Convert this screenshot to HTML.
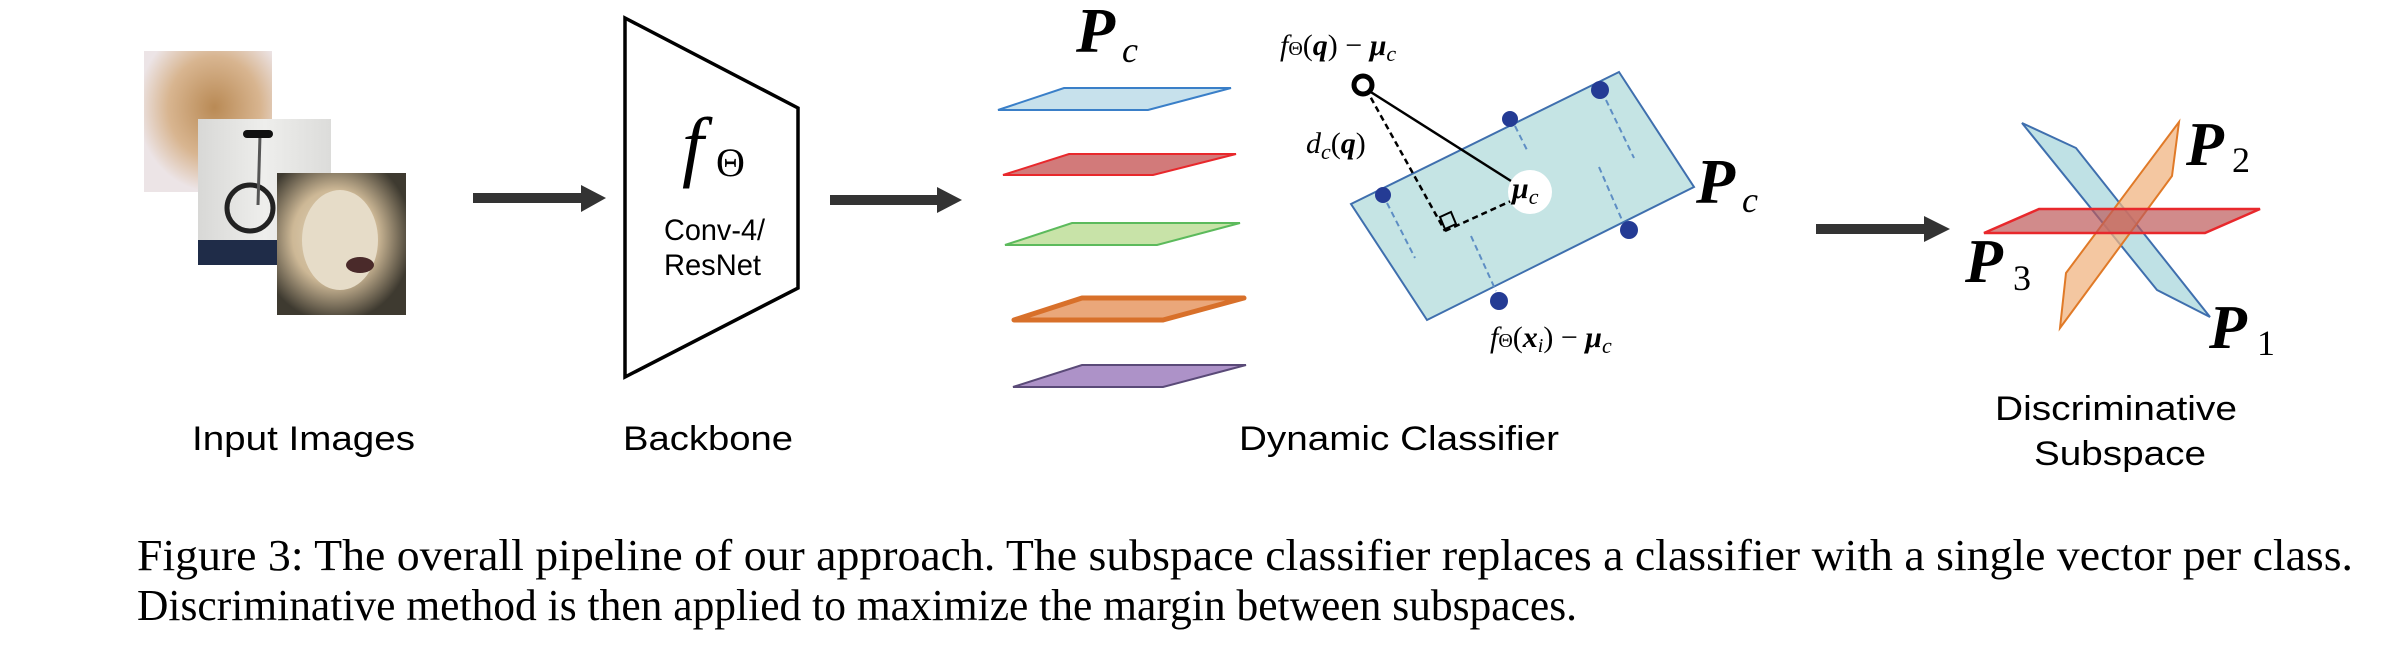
<!DOCTYPE html>
<html><head><meta charset="utf-8"><style>html,body{margin:0;padding:0;background:#fff}svg{display:block}</style></head>
<body>
<svg width="2392" height="648" viewBox="0 0 2392 648" xmlns="http://www.w3.org/2000/svg">
<defs>
<radialGradient id="g1" cx="0.55" cy="0.4" r="0.6"><stop offset="0" stop-color="#b98a55"/><stop offset="0.6" stop-color="#d8b590"/><stop offset="1" stop-color="#ece4e6"/></radialGradient>
<linearGradient id="g2" x1="0" y1="0" x2="1" y2="0"><stop offset="0" stop-color="#d8d8d6"/><stop offset="0.5" stop-color="#eeeeec"/><stop offset="1" stop-color="#dcdcda"/></linearGradient>
<radialGradient id="g3" cx="0.45" cy="0.45" r="0.6"><stop offset="0" stop-color="#e8dcc4"/><stop offset="0.55" stop-color="#cdb896"/><stop offset="1" stop-color="#3e3a30"/></radialGradient>
</defs>
<!-- images -->
<rect x="144" y="51" width="128" height="141" fill="url(#g1)"/>
<rect x="198" y="119" width="133" height="146" fill="url(#g2)"/>
<rect x="198" y="240" width="133" height="25" fill="#1f2c48"/>
<circle cx="250" cy="208" r="23" fill="none" stroke="#222" stroke-width="5"/>
<line x1="260" y1="135" x2="258" y2="205" stroke="#555" stroke-width="3"/>
<rect x="243" y="130" width="30" height="8" rx="4" fill="#111"/>
<rect x="277" y="173" width="129" height="142" fill="url(#g3)"/>
<ellipse cx="340" cy="240" rx="38" ry="50" fill="#e6dcc8"/>
<ellipse cx="360" cy="265" rx="14" ry="8" fill="#4a2a2a"/>
<!-- arrow 1 -->
<rect x="473" y="193" width="110" height="10" fill="#333"/>
<polygon points="581,185 606,198 581,212" fill="#333"/>
<!-- backbone -->
<polygon points="625,18 798,108 798,288 625,377" fill="#fff" stroke="#000" stroke-width="3.5"/>
<text x="682" y="172" font-family="Liberation Serif" font-style="italic" font-size="78">f</text>
<text x="716" y="176" font-family="Liberation Serif" font-size="40">Θ</text>
<text x="664" y="240" font-family="Liberation Sans" font-size="30" textLength="101" lengthAdjust="spacingAndGlyphs">Conv-4/</text>
<text x="664" y="275" font-family="Liberation Sans" font-size="30" textLength="97" lengthAdjust="spacingAndGlyphs">ResNet</text>
<!-- arrow 2 -->
<rect x="830" y="195" width="110" height="10" fill="#333"/>
<polygon points="937,187 962,200 937,213" fill="#333"/>
<!-- Pc label -->
<text x="1076" y="52" font-family="Liberation Serif" font-style="italic" font-weight="bold" font-size="64">P</text>
<text x="1122" y="62" font-family="Liberation Serif" font-style="italic" font-size="36">c</text>
<!-- planes -->
<polygon points="1064,88 1231,88 1148,110 998,110" fill="#c7e1ec" stroke="#3a7fc8" stroke-width="2"/>
<polygon points="1069,154 1236,154 1153,175 1003,175" fill="#d27a7a" stroke="#e8282c" stroke-width="2"/>
<polygon points="1072,223 1240,223 1157,245 1005,245" fill="#c8e3a8" stroke="#5cba5c" stroke-width="2"/>
<polygon points="1082,298 1244,298 1163,320 1014,320" fill="#eaa77a" stroke="#d8702a" stroke-width="5" stroke-linejoin="round"/>
<polygon points="1082,365 1246,365 1163,387 1013,387" fill="#ad92c8" stroke="#5a4a78" stroke-width="2"/>
<!-- classifier -->
<text x="1280" y="55" font-family="Liberation Serif" font-size="30"><tspan font-style="italic">f</tspan><tspan font-size="20">Θ</tspan>(<tspan font-style="italic" font-weight="bold">q</tspan>) − <tspan font-style="italic" font-weight="bold">μ</tspan><tspan font-style="italic" font-size="22" dy="6">c</tspan></text>
<polygon points="1619,72 1694,187 1427,320 1351,204" fill="#c5e4e4" stroke="#3f6fae" stroke-width="2"/>
<g stroke="#5e8ec4" stroke-width="2" stroke-dasharray="6,4">
<line x1="1606" y1="100" x2="1634" y2="158"/><line x1="1515" y1="126" x2="1528" y2="152"/>
<line x1="1387" y1="203" x2="1415" y2="258"/><line x1="1599" y1="167" x2="1622" y2="220"/>
<line x1="1471" y1="236" x2="1496" y2="291"/></g>
<g fill="#243b94"><circle cx="1600" cy="90" r="9"/><circle cx="1510" cy="119" r="8"/><circle cx="1383" cy="195" r="8"/><circle cx="1629" cy="230" r="9"/><circle cx="1499" cy="301" r="9"/></g>
<line x1="1366" y1="89" x2="1511" y2="181" stroke="#000" stroke-width="2.5"/>
<line x1="1366" y1="89" x2="1445" y2="231" stroke="#000" stroke-width="2.5" stroke-dasharray="6,4"/>
<line x1="1445" y1="231" x2="1511" y2="201" stroke="#000" stroke-width="2.5" stroke-dasharray="6,4"/>
<polygon points="1440,217 1451,212 1456,224 1445,229" fill="none" stroke="#000" stroke-width="2"/>
<circle cx="1363" cy="85" r="9" fill="#fff" stroke="#000" stroke-width="5"/>
<circle cx="1530" cy="192" r="22" fill="#fff"/>
<text x="1512" y="198" font-family="Liberation Serif" font-size="30"><tspan font-style="italic" font-weight="bold">μ</tspan><tspan font-style="italic" font-size="22" dy="6">c</tspan></text>
<text x="1306" y="153" font-family="Liberation Serif" font-size="30"><tspan font-style="italic">d</tspan><tspan font-style="italic" font-size="22" dy="6">c</tspan><tspan dy="-6">(</tspan><tspan font-style="italic" font-weight="bold">q</tspan>)</text>
<text x="1696" y="203" font-family="Liberation Serif" font-style="italic" font-weight="bold" font-size="64">P</text>
<text x="1742" y="212" font-family="Liberation Serif" font-style="italic" font-size="36">c</text>
<text x="1490" y="347" font-family="Liberation Serif" font-size="30"><tspan font-style="italic">f</tspan><tspan font-size="20">Θ</tspan>(<tspan font-style="italic" font-weight="bold">x</tspan><tspan font-style="italic" font-size="20" dy="5">i</tspan><tspan dy="-5">) − </tspan><tspan font-style="italic" font-weight="bold">μ</tspan><tspan font-style="italic" font-size="22" dy="6">c</tspan></text>
<!-- arrow 3 -->
<rect x="1816" y="224" width="110" height="10" fill="#333"/>
<polygon points="1924,216 1950,229 1924,242" fill="#333"/>
<!-- subspaces -->
<polygon points="2022,123 2076,148 2210,317 2157,290" fill="rgba(180,220,225,0.85)" stroke="#3f6fae" stroke-width="2"/>
<polygon points="2179,122 2172,176 2060,328 2066,273" fill="rgba(240,180,130,0.75)" stroke="#e07a28" stroke-width="2"/>
<polygon points="2039,209 2260,209 2205,233 1984,233" fill="rgba(190,90,90,0.7)" stroke="#e8282c" stroke-width="2.5"/>
<text x="2186" y="165" font-family="Liberation Serif" font-style="italic" font-weight="bold" font-size="62">P</text>
<text x="2232" y="172" font-family="Liberation Serif" font-size="36">2</text>
<text x="1965" y="282" font-family="Liberation Serif" font-style="italic" font-weight="bold" font-size="62">P</text>
<text x="2013" y="290" font-family="Liberation Serif" font-size="36">3</text>
<text x="2209" y="348" font-family="Liberation Serif" font-style="italic" font-weight="bold" font-size="62">P</text>
<text x="2257" y="355" font-family="Liberation Serif" font-size="36">1</text>
<!-- labels -->
<g font-family="Liberation Sans" font-size="34" fill="#000">
<text x="192" y="450" textLength="223" lengthAdjust="spacingAndGlyphs">Input Images</text>
<text x="623" y="450" textLength="170" lengthAdjust="spacingAndGlyphs">Backbone</text>
<text x="1239" y="450" textLength="320" lengthAdjust="spacingAndGlyphs">Dynamic Classifier</text>
<text x="1995" y="420" textLength="242" lengthAdjust="spacingAndGlyphs">Discriminative</text>
<text x="2034" y="465" textLength="172" lengthAdjust="spacingAndGlyphs">Subspace</text>
</g>
<g font-family="Liberation Serif" font-size="44" fill="#000">
<text x="137" y="570" textLength="2216" lengthAdjust="spacingAndGlyphs">Figure 3: The overall pipeline of our approach. The subspace classifier replaces a classifier with a single vector per class.</text>
<text x="137" y="620" textLength="1440" lengthAdjust="spacingAndGlyphs">Discriminative method is then applied to maximize the margin between subspaces.</text>
</g>
</svg>
</body></html>
